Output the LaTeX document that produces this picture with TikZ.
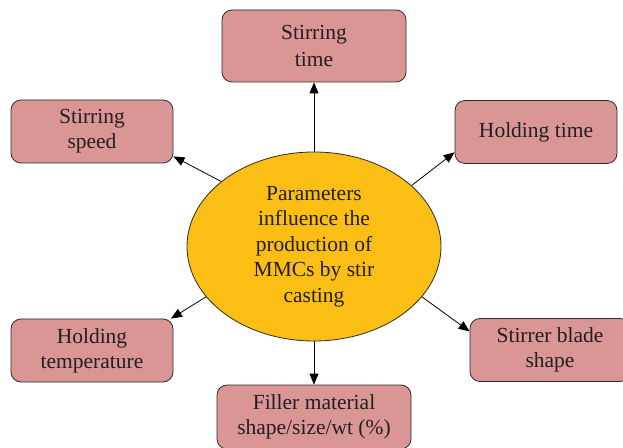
\documentclass[tikz,border=0pt]{standalone}
\usepackage{fontspec}
\setmainfont{Liberation Serif}
\usepackage{tikz}
\usetikzlibrary{arrows.meta, shapes.geometric}
\definecolor{lineColor}{RGB}{45, 45, 45}
\definecolor{boxFill}{RGB}{217, 150, 148}
\definecolor{coreFill}{RGB}{250, 190, 20}
\definecolor{textColor}{RGB}{35, 31, 32}
\tikzset{
    param_box/.style={
        rectangle,
        rounded corners=10pt,
        line width=0.8pt,
        draw=lineColor,
        fill=boxFill,
        text=textColor,
        align=center,
        inner sep=0pt,
        minimum height=63pt,
        font=\fontsize{21.5}{25}\selectfont
    },
    core_ellipse/.style={
        ellipse,
        line width=0.8pt,
        draw=lineColor,
        fill=coreFill,
        text=textColor,
        align=center,
        inner sep=0pt,
        minimum width=254pt,
        minimum height=189pt,
        font=\fontsize{21.5}{25.5}\selectfont
    },
    param_edge/.style={
        -{Triangle[length=11pt, width=9pt]},
        line width=0.8pt,
        draw=black
    }
}

\begin{document}
\begin{tikzpicture}[x=1pt, y=1pt]
    \useasboundingbox (0,0) rectangle (623,447);
    \node[core_ellipse] (core) at (314,200.5)
        {Parameters\\influence the\\production of\\MMCs by stir\\casting};
    \node[param_box, minimum width=184pt, minimum height=72pt, font=\fontsize{21.5}{27}\selectfont] (stime) at (314,401) {Stirring\\time};
    \node[param_box, minimum width=162pt] (speed) at (92,315.5) {Stirring\\speed};
    \node[param_box, minimum width=162pt] (htime) at (536,315) {Holding time};
    \node[param_box, minimum width=162pt] (htemp) at (92,96.5) {Holding\\temperature};
    \node[param_box, minimum width=160pt] (blade) at (550,97) {Stirrer blade\\shape};
    \node[param_box, minimum width=194pt, minimum height=64pt] (filler) at (314,30) {Filler material\\shape/size/wt (\%)};

    \draw[param_edge] (core.north) -- (stime.south);
    \draw[param_edge] (core.145) -- (speed.-17);
    \draw[param_edge] (core.32) -- (htime.-166);
    \draw[param_edge] (core.-155) -- (htemp.22);
    \draw[param_edge] (core.-25) -- (blade.167);
    \draw[param_edge] (core.south) -- (filler.north);
\end{tikzpicture}
\end{document}
